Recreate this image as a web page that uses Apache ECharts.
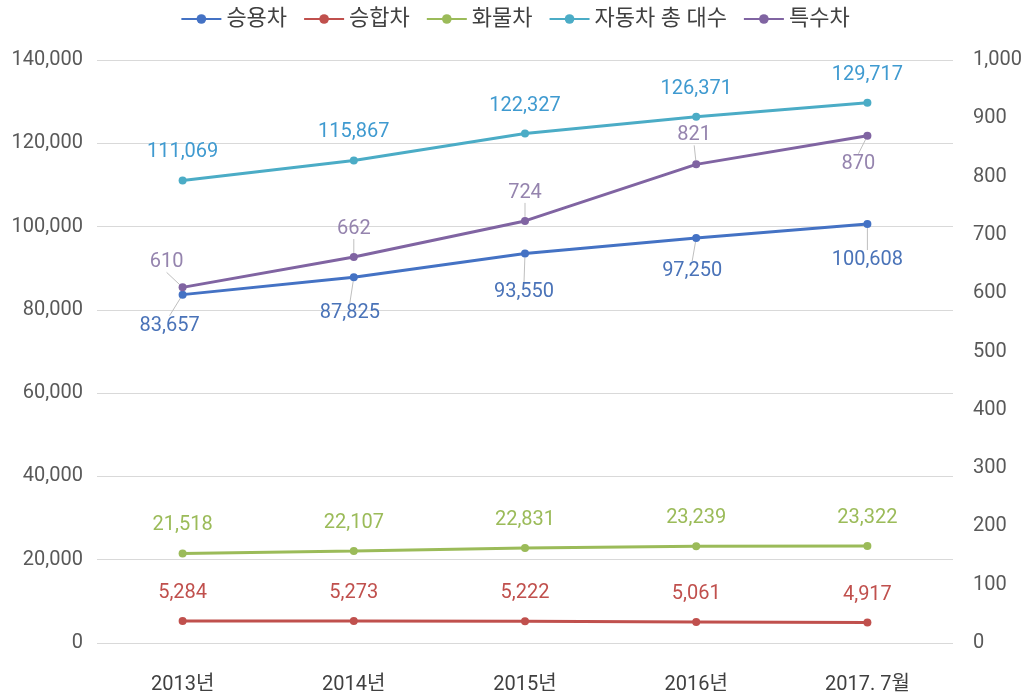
<!DOCTYPE html>
<html>
<head>
<meta charset="utf-8">
<script src="https://cdn.jsdelivr.net/npm/echarts@6/dist/echarts.min.js"></script>
<style>
  html, body { margin: 0; padding: 0; background: #fff; }
  #main { width: 1030px; height: 697px; }
</style>
</head>
<body>
<div id="main"></div>
<script>
var categories = ['2013년', '2014년', '2015년', '2016년', '2017. 7월'];
var passenger = [83657, 87825, 93550, 97250, 100608];   // 승용차
var van = [5284, 5273, 5222, 5061, 4917];               // 승합차
var truck = [21518, 22107, 22831, 23239, 23322];        // 화물차
var total = [111069, 115867, 122327, 126371, 129717];   // 자동차 총 대수
var special = [610, 662, 724, 821, 870];                // 특수차 (right axis)

// label offsets from the point (label centre - point), pixels
var offPassenger = [[-13, 31], [-4, 36], [-1, 39], [-4, 33], [0, 36]];
var offAbove = [[0, -28], [0, -28], [0, -28], [0, -28], [0, -28]];
var offSpecial = [[-16, -25], [0, -28], [0, -28], [-2, -29], [-9, 28]];

var font = "Roboto, 'Noto Sans CJK KR', sans-serif";
var chartDom = document.getElementById('main');
var myChart = echarts.init(chartDom);

function mkSeries(name, data, color, labelColor, offs, yIdx, lines) {
  return {
    name: name,
    type: 'line',
    yAxisIndex: yIdx,
    data: data,
    symbol: 'circle',
    symbolSize: 8,
    itemStyle: { color: color },
    lineStyle: { color: color, width: 3 },
    label: {
      show: true,
      position: 'inside',
      color: labelColor,
      fontSize: 20,
      fontFamily: font,
      formatter: function (p) { return echarts.format.addCommas(p.value); }
    },
    labelLine: { show: lines, lineStyle: { color: '#bfbfbf', width: 1 } },
    labelLayout: function (p) {
      var o = offs[p.dataIndex];
      return { dx: o[0], dy: o[1] };
    }
  };
}

var option = {
  backgroundColor: '#ffffff',
  animation: false,
  legend: {
    top: 3,
    left: 'center',
    itemWidth: 40,
    itemHeight: 12,
    itemGap: 16,
    textStyle: { color: '#404040', fontSize: 22, fontFamily: font },
    data: ['승용차', '승합차', '화물차', '자동차 총 대수', '특수차']
  },
  grid: { left: 97, right: 77, top: 60, bottom: 54 },
  xAxis: {
    type: 'category',
    data: categories,
    axisLine: { show: false },
    axisTick: { show: false },
    axisLabel: { color: '#404040', fontSize: 20, fontFamily: font, margin: 32 }
  },
  yAxis: [
    {
      type: 'value', min: 0, max: 140000, interval: 20000,
      axisLine: { show: false }, axisTick: { show: false },
      splitLine: { lineStyle: { color: '#d9d9d9' } },
      axisLabel: {
        color: '#595959', fontSize: 20, fontFamily: font, margin: 14,
        formatter: function (v) { return echarts.format.addCommas(v); }
      }
    },
    {
      type: 'value', min: 0, max: 1000, interval: 100,
      axisLine: { show: false }, axisTick: { show: false },
      splitLine: { show: false },
      axisLabel: {
        color: '#595959', fontSize: 20, fontFamily: font, margin: 20,
        formatter: function (v) { return echarts.format.addCommas(v); }
      }
    }
  ],
  series: [
    mkSeries('승용차', passenger, '#4472C4', '#4a73b8', offPassenger, 0, true),
    mkSeries('승합차', van, '#C0504D', '#c0504d', offAbove, 0, false),
    mkSeries('화물차', truck, '#9BBB59', '#9bbb59', offAbove, 0, false),
    mkSeries('자동차 총 대수', total, '#4BACC6', '#3f9ad0', offAbove, 0, false),
    mkSeries('특수차', special, '#8064A2', '#9584ae', offSpecial, 1, true)
  ]
};

option && myChart.setOption(option);
</script>
</body>
</html>
